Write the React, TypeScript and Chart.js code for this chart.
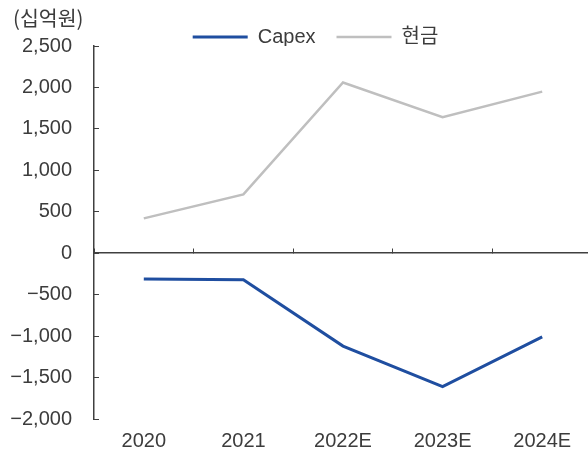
import React, { useEffect, useRef } from 'react';
import { Chart, registerables } from 'chart.js';

Chart.register(...registerables);

// Years on the horizontal axis
const categories = ['2020', '2021', '2022E', '2023E', '2024E'];
// Series values (십억원)
const capexValues = [-310, -320, -1120, -1610, -1010];
const cashValues = [420, 710, 2060, 1640, 1950];
const seriesNames = ['Capex', '현금'];
// Vertical axis range
const yMin = -2000;
const yMax = 2500;
const yStep = 500;
const unitText = '(십억원)';

const TEXT = '#3c3c3c';
const AXIS = '#404040';
const BLUE = '#1f4ea0';
const GRAY = '#bfbfbf';
const FONT = "'Liberation Sans', Arial, 'Noto Sans CJK KR', sans-serif";

function formatTick(v: number): string {
  const s = Math.abs(v).toLocaleString('en-US');
  return v < 0 ? '\u2212' + s : s;
}

// Unit caption in the top-left corner
const unitLabelPlugin = {
  id: 'unitLabel',
  afterDraw(chart: any) {
    const ctx = chart.ctx;
    ctx.save();
    ctx.font = "20.5px 'Noto Sans CJK KR', sans-serif";
    ctx.fillStyle = TEXT;
    ctx.textAlign = 'left';
    ctx.textBaseline = 'middle';
    ctx.fillText(unitText, 13, 18);
    ctx.restore();
  },
};

export default function App() {
  const canvasRef = useRef<HTMLCanvasElement | null>(null);

  useEffect(() => {
    const canvas = canvasRef.current;
    if (!canvas) return;
    const chart = new Chart(canvas, {
      type: 'line',
      data: {
        labels: categories,
        datasets: [
          {
            label: seriesNames[0],
            data: capexValues,
            borderColor: BLUE,
            backgroundColor: BLUE,
            borderWidth: 3,
            pointBorderWidth: 3,
            pointBorderColor: BLUE,
            pointRadius: 0,
            pointHoverRadius: 0,
            tension: 0,
          },
          {
            label: seriesNames[1],
            data: cashValues,
            borderColor: GRAY,
            backgroundColor: GRAY,
            borderWidth: 2.5,
            pointBorderWidth: 2.5,
            pointBorderColor: GRAY,
            pointRadius: 0,
            pointHoverRadius: 0,
            tension: 0,
          },
        ],
      },
      options: {
        responsive: false,
        animation: false,
        devicePixelRatio: 1,
        layout: { padding: { left: 0, right: 9, top: 6, bottom: 0 } },
        plugins: {
          legend: {
            display: true,
            position: 'top',
            align: 'center',
            maxHeight: 40,
            labels: {
              usePointStyle: true,
              pointStyle: 'line',
              pointStyleWidth: 55,
              padding: 21,
              color: TEXT,
              font: { family: FONT, size: 20 },
            },
          },
          tooltip: { enabled: false },
        },
        scales: {
          x: {
            type: 'category',
            position: 'bottom',
            offset: true,
            afterFit: (scale: any) => {
              scale.height = 32;
            },
            grid: { display: false, drawTicks: false },
            border: { display: false },
            ticks: {
              color: TEXT,
              font: { family: FONT, size: 20, lineHeight: 1 },
              padding: 12,
              maxRotation: 0,
              autoSkip: false,
            },
          },
          // zero line with small upward tick marks between categories
          x2: {
            type: 'category',
            position: { y: 0 },
            offset: true,
            grid: {
              display: true,
              offset: true,
              drawOnChartArea: false,
              drawTicks: true,
              tickLength: -5,
              color: AXIS,
              lineWidth: 1,
            },
            border: { display: true, color: AXIS, width: 1.5 },
            ticks: { display: false },
          },
          y: {
            type: 'linear',
            position: 'left',
            min: yMin,
            max: yMax,
            afterFit: (scale: any) => {
              scale.width = 94;
              scale.paddingTop = 0;
              scale.paddingBottom = 0;
            },
            grid: {
              display: true,
              drawOnChartArea: false,
              drawTicks: true,
              tickLength: -5,
              color: AXIS,
              lineWidth: 1,
            },
            border: { display: true, color: AXIS, width: 1.5 },
            ticks: {
              stepSize: yStep,
              padding: 27,
              color: TEXT,
              font: { family: FONT, size: 20 },
              callback: (v: any) => formatTick(Number(v)),
            },
          },
          // empty right-hand gutter, keeps the plot edge while the legend centres on the full width
          yRight: {
            type: 'linear',
            axis: 'y',
            position: 'right',
            min: yMin,
            max: yMax,
            afterFit: (scale: any) => {
              scale.width = 39;
            },
            grid: { display: false, drawTicks: false },
            border: { display: false },
            ticks: { display: false },
          },
        },
      },
      plugins: [unitLabelPlugin],
    } as any);
    return () => chart.destroy();
  }, []);

  return (
    <div
      style={{
        position: 'absolute',
        left: 0,
        top: 0,
        width: 588,
        height: 451,
        overflow: 'hidden',
        background: '#ffffff',
      }}
    >
      <canvas ref={canvasRef} width={640} height={451} style={{ display: 'block' }} />
    </div>
  );
}
